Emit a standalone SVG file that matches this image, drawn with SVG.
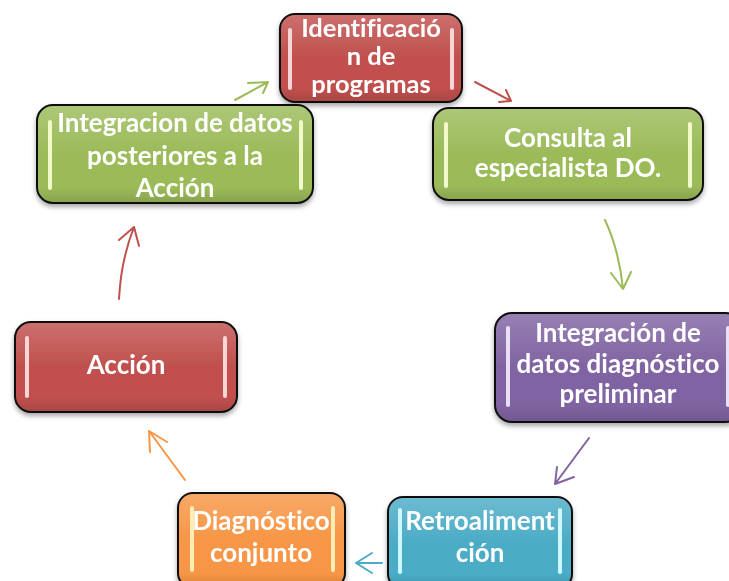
<svg xmlns="http://www.w3.org/2000/svg" width="729" height="581" viewBox="0 0 729 581">
<defs>
<style>
.box{stroke:#111;stroke-width:2}
.red{fill:#C0504D}.green{fill:#9BBB59}.purple{fill:#8064A2}.cyan{fill:#4BACC6}.orange{fill:#F79646}
.gloss{fill:url(#gloss);stroke:none}
.t{font-family:Lato,"Liberation Sans",sans-serif;font-weight:bold;fill:#fff;text-anchor:middle;font-size:26px;font-variant-ligatures:none}
.hl{stroke-width:4;stroke-linecap:round}
.hr{stroke:#F8D6D5}.hg{stroke:#F4F9CC}.hp{stroke:#EAE0F5}.hc{stroke:#CFF7FE}.ho{stroke:#FFEDB5}
.arr{fill:none;stroke-width:2;stroke-linecap:round;stroke-linejoin:round}
</style>
<linearGradient id="gloss" x1="0" y1="0" x2="0" y2="1">
<stop offset="0" stop-color="#fff" stop-opacity="0.18"/>
<stop offset="0.5" stop-color="#fff" stop-opacity="0"/>
<stop offset="0.85" stop-color="#000" stop-opacity="0"/>
<stop offset="1" stop-color="#000" stop-opacity="0.12"/>
</linearGradient>
<filter id="sh" x="-10%" y="-10%" width="120%" height="130%">
<feDropShadow dx="0" dy="3" stdDeviation="2.5" flood-color="#000" flood-opacity="0.35"/>
</filter>
</defs>
<rect width="729" height="581" fill="#fff"/>

<g id="connectors">
<g stroke="#9BBB59" class="arr"><path d="M235,100 L268,82 M248,83 L268,82 L263,93"/></g>
<g stroke="#C0504D" class="arr"><path d="M475,82 L511,101 M499,102 L511,101 L506,90"/></g>
<g stroke="#9BBB59" class="arr"><path d="M605,220 Q619,250 623,289 M611,273 L623,289 L631,272"/></g>
<g stroke="#8064A2" class="arr"><path d="M589,438 L555,484 M557,467 L555,484 L574,477"/></g>
<g stroke="#4BACC6" class="arr"><path d="M382,563 L356,563 M372,553 L356,563 L372,573"/></g>
<g stroke="#F79646" class="arr"><path d="M185,480 L149,431 M150,452 L149,431 L167,442"/></g>
<g stroke="#C0504D" class="arr"><path d="M119,299 Q121,260 134,227 M119,240 L134,227 L139,246"/></g>
</g>

<g id="n1" filter="url(#sh)">
<rect class="box red" x="280" y="14" width="182" height="88" rx="15"/>
<rect class="gloss" x="281" y="15" width="180" height="86" rx="14"/>
<line class="hl hr" x1="290" y1="30" x2="290" y2="88"/>
<line class="hl hr" x1="452" y1="30" x2="452" y2="88"/>
<text class="t" style="font-size:25.5px"><tspan x="371" y="37">Identificació</tspan><tspan x="371" y="65">n de</tspan><tspan x="371" y="93">programas</tspan></text>
</g>

<g id="n2" filter="url(#sh)">
<rect class="box green" x="37" y="105" width="276" height="98" rx="16"/>
<rect class="gloss" x="38" y="106" width="274" height="96" rx="15"/>
<line class="hl hg" x1="50" y1="122" x2="50" y2="188"/>
<line class="hl hg" x1="301" y1="122" x2="301" y2="188"/>
<text class="t"><tspan x="175" y="132">Integracion de datos</tspan><tspan x="175" y="165">posteriores a la</tspan><tspan x="175" y="197">Acción</tspan></text>
</g>

<g id="n3" filter="url(#sh)">
<rect class="box green" x="433" y="108" width="270" height="92" rx="16"/>
<rect class="gloss" x="434" y="109" width="268" height="90" rx="15"/>
<line class="hl hg" x1="446" y1="124" x2="446" y2="186"/>
<line class="hl hg" x1="690" y1="124" x2="690" y2="186"/>
<text class="t"><tspan x="568" y="147">Consulta al</tspan><tspan x="568" y="177">especialista DO.</tspan></text>
</g>

<g id="n4" filter="url(#sh)">
<rect class="box purple" x="495" y="313" width="247" height="109" rx="17"/>
<rect class="gloss" x="496" y="314" width="245" height="107" rx="16"/>
<line class="hl hp" x1="508" y1="328" x2="508" y2="405"/>
<line class="hl hp" x1="728" y1="328" x2="728" y2="405"/>
<text class="t"><tspan x="618" y="342">Integración de</tspan><tspan x="618" y="373">datos diagnóstico</tspan><tspan x="618" y="403">preliminar</tspan></text>
</g>

<g id="n5" filter="url(#sh)">
<rect class="box red" x="15" y="322" width="222" height="90" rx="16"/>
<rect class="gloss" x="16" y="323" width="220" height="88" rx="15"/>
<line class="hl hr" x1="27" y1="338" x2="27" y2="396"/>
<line class="hl hr" x1="225" y1="338" x2="225" y2="396"/>
<text class="t"><tspan x="126" y="374">Acción</tspan></text>
</g>

<g id="n6" filter="url(#sh)">
<rect class="box orange" x="178" y="493" width="167" height="95" rx="15"/>
<rect class="gloss" x="179" y="494" width="165" height="93" rx="14"/>
<line class="hl ho" x1="192" y1="508" x2="192" y2="570"/>
<line class="hl ho" x1="333" y1="508" x2="333" y2="570"/>
<text class="t"><tspan x="261" y="530">Diagnóstico</tspan><tspan x="261" y="562">conjunto</tspan></text>
</g>

<g id="n7" filter="url(#sh)">
<rect class="box cyan" x="388" y="497" width="184" height="92" rx="15"/>
<rect class="gloss" x="389" y="498" width="182" height="90" rx="14"/>
<line class="hl hc" x1="400" y1="510" x2="400" y2="572"/>
<line class="hl hc" x1="560" y1="510" x2="560" y2="572"/>
<text class="t"><tspan x="480" y="530">Retroaliment</tspan><tspan x="480" y="562">ción</tspan></text>
</g>
</svg>
